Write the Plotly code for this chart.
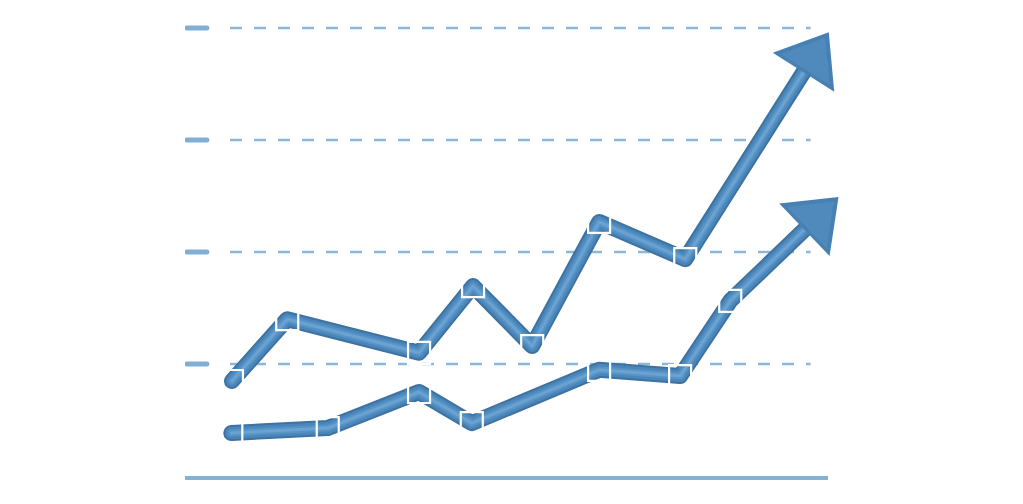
import plotly.graph_objects as go

# ---- data ----
grid_values = [25, 50, 75, 100]

upper_x = [7.3, 15.9, 36.4, 44.8, 54.0, 64.4, 77.8, 97.5]
upper_y = [21.2, 35.0, 27.5, 42.4, 29.0, 56.7, 48.4, 93.1]

lower_x = [7.2, 22.2, 36.4, 44.6, 64.4, 77.0, 84.8, 98.1]
lower_y = [9.6, 10.7, 18.75, 11.8, 23.7, 22.3, 39.1, 57.4]

grid_x_start = 7.0
grid_x_end = 97.3
tick_x_end = 3.4

fig = go.Figure()

# tube-like layered strokes
tube_layers = [(16, "#3d72a2"), (12, "#4a86b9"), (7, "#5893c6"), (3, "#6aa2d1")]


def add_series(xs, ys):
    for w, c in tube_layers:
        fig.add_trace(go.Scatter(
            x=xs, y=ys, mode="lines",
            line=dict(width=w, color=c, shape="linear"),
            hoverinfo="skip", showlegend=False, cliponaxis=False,
        ))
    # arrow head
    fig.add_trace(go.Scatter(
        x=xs[-2:], y=ys[-2:], mode="markers",
        marker=dict(symbol="triangle-up", size=[0, 63], color="#4880b3",
                    angleref="previous", line=dict(width=0), opacity=1),
        hoverinfo="skip", showlegend=False, cliponaxis=False,
    ))
    fig.add_trace(go.Scatter(
        x=xs[-2:], y=ys[-2:], mode="markers",
        marker=dict(symbol="triangle-up", size=[0, 50], color="#5089bc",
                    angleref="previous", line=dict(width=0), opacity=1),
        hoverinfo="skip", showlegend=False, cliponaxis=False,
    ))
    # hollow square markers
    fig.add_trace(go.Scatter(
        x=xs[:-1], y=ys[:-1], mode="markers",
        marker=dict(symbol="square-open", size=22, color="white",
                    line=dict(width=2.2, color="white")),
        hoverinfo="skip", showlegend=False, cliponaxis=False,
    ))


add_series(lower_x, lower_y)
add_series(upper_x, upper_y)

for g in grid_values:
    fig.add_shape(type="line", xref="x", yref="y",
                  x0=grid_x_start, x1=grid_x_end, y0=g, y1=g,
                  line=dict(color="#8db6d8", width=2.5, dash="12px,12px"),
                  layer="below")
    fig.add_shape(type="line", xref="x", yref="y",
                  x0=0.3, x1=tick_x_end, y0=g, y1=g,
                  line=dict(color="#80aed4", width=5),
                  layer="below", name="tick")

fig.update_layout(
    width=1023, height=504,
    margin=dict(l=177, r=203, t=11, b=36),
    paper_bgcolor="white", plot_bgcolor="white",
    xaxis=dict(range=[0, 100], showgrid=False, zeroline=False,
               showticklabels=False, ticks="",
               showline=True, linewidth=4, linecolor="#85b1d5"),
    yaxis=dict(range=[0, 102], showgrid=False, zeroline=False,
               showticklabels=False, ticks="", showline=False),
)

post = """
var gd = document.querySelector('.plotly-graph-div');
function roundify(){
  gd.querySelectorAll('.scatterlayer .js-line').forEach(function(p){
    p.style.strokeLinejoin = 'round';
    p.style.strokeLinecap = 'round';
  });
  gd.querySelectorAll('.shapelayer path').forEach(function(p){
    if (!p.style.strokeDasharray || p.style.strokeDasharray === 'none' || p.style.strokeDasharray === '') {
      p.style.strokeLinecap = 'round';
    }
  });
}
roundify();
gd.on && gd.on('plotly_afterplot', roundify);
"""

fig.write_html("out.html", post_script=post)
